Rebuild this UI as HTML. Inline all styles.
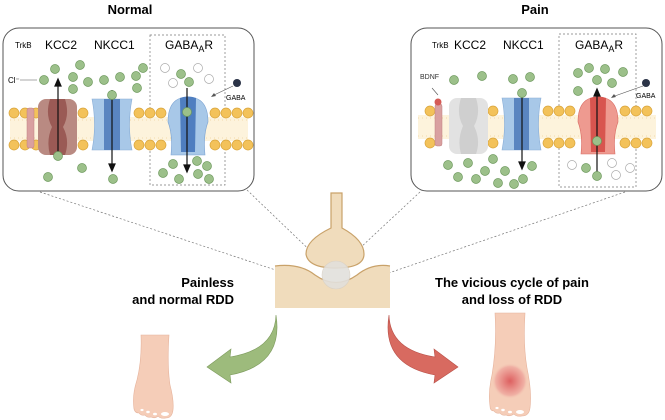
<!DOCTYPE html>
<html><head><style>
html,body{margin:0;padding:0;background:#fff;}
svg{display:block;font-family:"Liberation Sans",sans-serif;}
</style></head><body>
<svg width="665" height="420" viewBox="0 0 665 420" xmlns="http://www.w3.org/2000/svg">
<defs>
<radialGradient id="spot"><stop offset="0" stop-color="#dd6060"/><stop offset="0.45" stop-color="#e88e88"/><stop offset="0.8" stop-color="#f0b0a4"/><stop offset="1" stop-color="#f5cdb8" stop-opacity="0"/></radialGradient>
</defs>
<text x="130" y="14" font-size="13" font-weight="bold" text-anchor="middle">Normal</text>
<text x="535" y="14" font-size="13" font-weight="bold" text-anchor="middle">Pain</text>

<g stroke="#777" stroke-width="0.7" stroke-dasharray="2,2" fill="none">
<line x1="40" y1="192" x2="330" y2="288"/>
<line x1="247" y1="190" x2="322" y2="262"/>
<line x1="420" y1="192" x2="345" y2="262"/>
<line x1="625" y1="192" x2="345" y2="288"/>
</g>

<!-- LEFT PANEL -->
<rect x="3" y="28" width="251" height="163" rx="16" fill="#fff" stroke="#555" stroke-width="1"/>
<rect x="150" y="35" width="75" height="150" fill="none" stroke="#777" stroke-width="0.7" stroke-dasharray="2,2"/>
<rect x="10" y="117" width="238" height="24" fill="#fdf3dc"/>
<path d="M10 120 H248 M10 138 H248" stroke="#e6c27a" stroke-width="0.5" stroke-dasharray="1,3"/>
<g fill="#f3c25a" stroke="#d9a43a" stroke-width="0.7">
<circle cx="14" cy="113" r="5"/><circle cx="25" cy="113" r="5"/><circle cx="36" cy="113" r="5"/><circle cx="83" cy="113" r="5"/><circle cx="139" cy="113" r="5"/><circle cx="150" cy="113" r="5"/><circle cx="161" cy="113" r="5"/><circle cx="215" cy="113" r="5"/><circle cx="226" cy="113" r="5"/><circle cx="237" cy="113" r="5"/><circle cx="248" cy="113" r="5"/>
<circle cx="14" cy="145" r="5"/><circle cx="25" cy="145" r="5"/><circle cx="36" cy="145" r="5"/><circle cx="83" cy="145" r="5"/><circle cx="139" cy="145" r="5"/><circle cx="150" cy="145" r="5"/><circle cx="161" cy="145" r="5"/><circle cx="215" cy="145" r="5"/><circle cx="226" cy="145" r="5"/><circle cx="237" cy="145" r="5"/><circle cx="248" cy="145" r="5"/>
</g>
<text x="15" y="48" font-size="8">TrkB</text>
<text x="45" y="49" font-size="12">KCC2</text>
<text x="94" y="49" font-size="12">NKCC1</text>
<text x="165" y="49" font-size="12">GABA<tspan font-size="9" dy="3">A</tspan><tspan dy="-3">R</tspan></text>
<text x="8" y="83" font-size="8">Cl⁻</text><line x1="20" y1="80" x2="37" y2="80" stroke="#555" stroke-width="0.6"/>
<rect x="27" y="108" width="7" height="40" rx="2" fill="#d9a0a0" stroke="#c08080" stroke-width="0.5"/>
<rect x="38" y="99" width="39" height="56" rx="8" fill="#b98a82"/>
<path d="M50 99 Q45 115 52 127 Q46 140 50 155 H65 Q70 140 63 127 Q70 115 65 99Z" fill="#9a5a55"/>
<path d="M92 99 H132 Q127 125 132 150 H92 Q97 125 92 99Z" fill="#a8c8e8" stroke="#8aaed6" stroke-width="0.6"/>
<rect x="104" y="99" width="16" height="51" fill="#5a85c0"/>
<path d="M168 122 Q168 97 188 97 Q208 97 208 122 Q203 135 205 155 H171 Q173 135 168 122Z" fill="#a8c8e8" stroke="#7aa2d2" stroke-width="0.6"/>
<path d="M180 98 Q188 95 196 98 L195 152 H181Z" fill="#4f7ec0"/>
<g stroke="#111" stroke-width="1.2" fill="#111">
<line x1="58" y1="160" x2="58" y2="84"/><path d="M55 86 L58 79 L61 86Z"/>
<line x1="112" y1="90" x2="112" y2="166"/><path d="M109 164 L112 171 L115 164Z"/>
<line x1="187" y1="88" x2="187" y2="167"/><path d="M184 165 L187 172 L190 165Z"/>
</g>
<line x1="233" y1="86" x2="212" y2="96" stroke="#555" stroke-width="0.6"/><path d="M211 97 l5 -1 l-2 -3z" fill="#555"/>
<circle cx="237" cy="83" r="4" fill="#2b3347"/>
<text x="226" y="100" font-size="7">GABA</text>
<g fill="#9cc08a" stroke="#6e9a5e" stroke-width="0.7">
<circle cx="55" cy="69" r="4.5"/><circle cx="80" cy="65" r="4.5"/><circle cx="73" cy="77" r="4.5"/><circle cx="44" cy="80" r="4.5"/><circle cx="88" cy="82" r="4.5"/><circle cx="73" cy="89" r="4.5"/><circle cx="104" cy="80" r="4.5"/><circle cx="120" cy="77" r="4.5"/><circle cx="143" cy="68" r="4.5"/><circle cx="136" cy="76" r="4.5"/><circle cx="137" cy="88" r="4.5"/><circle cx="112" cy="95" r="4.5"/><circle cx="181" cy="74" r="4.5"/><circle cx="189" cy="82" r="4.5"/><circle cx="187" cy="112" r="4.5"/><circle cx="58" cy="156" r="4.5"/><circle cx="48" cy="177" r="4.5"/><circle cx="82" cy="168" r="4.5"/><circle cx="113" cy="179" r="4.5"/><circle cx="173" cy="164" r="4.5"/><circle cx="163" cy="173" r="4.5"/><circle cx="197" cy="161" r="4.5"/><circle cx="179" cy="179" r="4.5"/><circle cx="198" cy="174" r="4.5"/><circle cx="207" cy="166" r="4.5"/><circle cx="209" cy="179" r="4.5"/>
</g>
<g fill="#fff" stroke="#aaa" stroke-width="0.7">
<circle cx="165" cy="68" r="4.5"/><circle cx="173" cy="83" r="4.5"/><circle cx="198" cy="68" r="4.5"/><circle cx="209" cy="79" r="4.5"/>
</g>

<!-- RIGHT PANEL -->
<rect x="411" y="28" width="251" height="163" rx="16" fill="#fff" stroke="#555" stroke-width="1"/>
<rect x="559" y="34" width="77" height="153" fill="none" stroke="#777" stroke-width="0.7" stroke-dasharray="2,2"/>
<rect x="418" y="115" width="238" height="24" fill="#fdf3dc"/>
<path d="M418 118 H656 M418 136 H656" stroke="#e6c27a" stroke-width="0.5" stroke-dasharray="1,3"/>
<g fill="#f3c25a" stroke="#d9a43a" stroke-width="0.7">
<circle cx="430" cy="111" r="5"/><circle cx="493" cy="111" r="5"/><circle cx="548" cy="111" r="5"/><circle cx="559" cy="111" r="5"/><circle cx="570" cy="111" r="5"/><circle cx="625" cy="111" r="5"/><circle cx="636" cy="111" r="5"/><circle cx="647" cy="111" r="5"/>
<circle cx="430" cy="143" r="5"/><circle cx="493" cy="143" r="5"/><circle cx="548" cy="143" r="5"/><circle cx="559" cy="143" r="5"/><circle cx="570" cy="143" r="5"/><circle cx="625" cy="143" r="5"/><circle cx="636" cy="143" r="5"/><circle cx="647" cy="143" r="5"/>
</g>
<text x="432" y="48" font-size="8">TrkB</text>
<text x="454" y="49" font-size="12">KCC2</text>
<text x="503" y="49" font-size="12">NKCC1</text>
<text x="575" y="49" font-size="12">GABA<tspan font-size="9" dy="3">A</tspan><tspan dy="-3">R</tspan></text>
<text x="420" y="79" font-size="7" fill="#333">BDNF</text>
<line x1="432" y1="88" x2="438" y2="95" stroke="#555" stroke-width="0.6"/>
<rect x="435" y="104" width="7" height="42" rx="2" fill="#d9a0a0" stroke="#c08080" stroke-width="0.5"/>
<circle cx="438" cy="102" r="3.5" fill="#d55a55"/>
<rect x="449" y="98" width="39" height="56" rx="8" fill="#e2e2e2"/>
<path d="M461 98 Q456 114 463 126 Q457 140 461 154 H476 Q481 140 474 126 Q481 114 476 98Z" fill="#cfcfcf"/>
<path d="M502 98 H541 Q536 124 541 150 H502 Q507 124 502 98Z" fill="#a8c8e8" stroke="#8aaed6" stroke-width="0.6"/>
<rect x="514" y="98" width="15" height="52" fill="#5a85c0"/>
<path d="M578 122 Q578 97 598 97 Q618 97 618 122 Q613 135 615 154 H581 Q583 135 578 122Z" fill="#ee9a90" stroke="#d86a62" stroke-width="0.6"/>
<path d="M590 98 Q598 95 606 98 L605 152 H591Z" fill="#d8554f"/>
<g stroke="#111" stroke-width="1.2" fill="#111">
<line x1="522" y1="90" x2="522" y2="164"/><path d="M519 162 L522 169 L525 162Z"/>
<line x1="597" y1="178" x2="597" y2="94"/><path d="M594 96 L597 89 L600 96Z"/>
</g>
<line x1="643" y1="86" x2="612" y2="97" stroke="#555" stroke-width="0.6"/><path d="M611 98 l5 -1 l-2 -3z" fill="#555"/>
<circle cx="646" cy="83" r="4" fill="#2b3347"/>
<text x="636" y="98" font-size="7">GABA</text>
<g fill="#9cc08a" stroke="#6e9a5e" stroke-width="0.7">
<circle cx="454" cy="80" r="4.5"/><circle cx="482" cy="76" r="4.5"/><circle cx="513" cy="79" r="4.5"/><circle cx="530" cy="77" r="4.5"/><circle cx="522" cy="93" r="4.5"/><circle cx="578" cy="73" r="4.5"/><circle cx="589" cy="68" r="4.5"/><circle cx="605" cy="69" r="4.5"/><circle cx="623" cy="72" r="4.5"/><circle cx="597" cy="80" r="4.5"/><circle cx="612" cy="83" r="4.5"/><circle cx="578" cy="91" r="4.5"/><circle cx="597" cy="141" r="4.5"/><circle cx="448" cy="165" r="4.5"/><circle cx="468" cy="163" r="4.5"/><circle cx="493" cy="159" r="4.5"/><circle cx="458" cy="177" r="4.5"/><circle cx="476" cy="179" r="4.5"/><circle cx="485" cy="171" r="4.5"/><circle cx="505" cy="171" r="4.5"/><circle cx="498" cy="183" r="4.5"/><circle cx="514" cy="184" r="4.5"/><circle cx="523" cy="179" r="4.5"/><circle cx="532" cy="166" r="4.5"/><circle cx="586" cy="168" r="4.5"/><circle cx="597" cy="176" r="4.5"/>
</g>
<g fill="#fff" stroke="#aaa" stroke-width="0.7">
<circle cx="572" cy="165" r="4.5"/><circle cx="612" cy="163" r="4.5"/><circle cx="616" cy="175" r="4.5"/><circle cx="630" cy="168" r="4.5"/>
</g>

<!-- CENTER SYNAPSE -->
<path d="M275 266 Q300 263 315 275 Q336 290 357 275 Q372 263 390 266 V308 H275Z" fill="#f0dcbc"/>
<path d="M275 266 Q300 263 315 275 Q336 290 357 275 Q372 263 390 266" fill="none" stroke="#c9a26a" stroke-width="1.2"/>
<path d="M331 193 V228 Q306 240 306 254 Q308 268 336 268 Q364 268 364 254 Q364 240 342 228 V193Z" fill="#f0dcbc" stroke="#c9a26a" stroke-width="1.2"/>
<circle cx="336" cy="275" r="14" fill="#e2e0dc" opacity="0.9" stroke="#d8d0c4" stroke-width="0.6"/>

<text x="234" y="287" font-size="13" font-weight="bold" text-anchor="end">Painless</text>
<text x="234" y="304" font-size="13" font-weight="bold" text-anchor="end">and normal RDD</text>
<text x="512" y="287" font-size="13" font-weight="bold" text-anchor="middle">The vicious cycle of pain</text>
<text x="512" y="304" font-size="13" font-weight="bold" text-anchor="middle">and loss of RDD</text>

<path d="M276 315 Q275 350 230 357 L231 349 L207 367 L231 383 L230 375 Q284 365 276 315Z" fill="#9dbb7c" stroke="#7c9a5c" stroke-width="0.6"/>
<path d="M389 315 Q390 350 435 357 L434 349 L458 367 L434 383 L435 375 Q381 365 389 315Z" fill="#d86a60" stroke="#b85048" stroke-width="0.6"/>

<!-- left foot -->
<path d="M141 335 H169 Q167 365 170 385 Q174 400 173 410 Q172 418 166 418 Q160 419 158 416 Q155 419 151 417 Q147 418 145 415 Q141 416 139 413 Q135 413 134 409 Q132 395 137 380 Q142 360 141 335Z" fill="#f5cdb8" stroke="#e6b39c" stroke-width="0.6"/>
<g fill="#fff"><ellipse cx="165" cy="414" rx="4" ry="2"/><ellipse cx="155" cy="414" rx="2" ry="1.3"/><ellipse cx="148" cy="412" rx="1.8" ry="1.2"/><ellipse cx="142" cy="410" rx="1.6" ry="1.1"/></g>
<!-- right foot -->
<path d="M495 313 H525 Q523 345 527 368 Q532 392 530 408 Q529 416 522 416 Q516 417 514 414 Q510 417 506 415 Q502 416 500 413 Q496 414 494 411 Q490 411 490 406 Q488 392 492 375 Q497 345 495 313Z" fill="#f5cdb8" stroke="#e6b39c" stroke-width="0.6"/>
<circle cx="510" cy="381" r="18" fill="url(#spot)"/>
<g fill="#fff"><ellipse cx="520" cy="412" rx="4" ry="2"/><ellipse cx="510" cy="412" rx="2" ry="1.3"/><ellipse cx="503" cy="410" rx="1.8" ry="1.2"/><ellipse cx="497" cy="408" rx="1.6" ry="1.1"/></g>
</svg>
</body></html>
